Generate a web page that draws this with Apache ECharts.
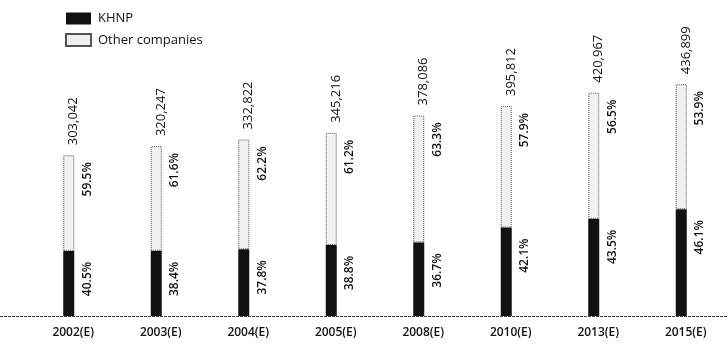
<!DOCTYPE html>
<html><head><meta charset="utf-8">
<script src="https://cdn.jsdelivr.net/npm/echarts@6/dist/echarts.min.js"></script>
<style>html,body{margin:0;padding:0;background:#fff}#c{width:728px;height:345px}</style>
</head><body><div id="c"></div>
<script>
const categories = ['2002(E)','2003(E)','2004(E)','2005(E)','2008(E)','2010(E)','2013(E)','2015(E)'];
const totals = [303042, 320247, 332822, 345216, 378086, 395812, 420967, 436899];
const totalLabels = ['303,042','320,247','332,822','345,216','378,086','395,812','420,967','436,899'];
const khnpPct = [40.5, 38.4, 37.8, 38.8, 36.7, 42.1, 43.5, 46.1];
const otherPct = [59.5, 61.6, 62.2, 61.2, 63.3, 57.9, 56.5, 53.9];

const khnpVals = totals.map((t,i)=> t*khnpPct[i]/100);
const otherVals = totals.map((t,i)=> t*otherPct[i]/100);

const FONT = "'Open Sans', 'DejaVu Sans', sans-serif";
const chart = echarts.init(document.getElementById('c'), null, {renderer:'canvas'});
const opt = {
  animation:false,
  textStyle:{fontFamily:FONT},
  grid:{left:25, right:3, top:20, bottom:29},
  legend:{
    orient:'vertical', left:65, top:12, padding:0, itemWidth:25, itemHeight:12, itemGap:8,
    icon:'rect',
    textStyle:{fontFamily:FONT, fontSize:13, color:'#111', padding:[0,0,0,2]},
    data:['KHNP','Other companies']
  },
  xAxis:{
    type:'category', data:categories,
    axisLine:{show:false}, axisTick:{show:false},
    axisLabel:{fontFamily:FONT, fontSize:12, fontWeight:600, color:'#111', margin:11, padding:[0,0,0,9]}
  },
  yAxis:{type:'value', min:0, max:558000, show:false, splitLine:{show:false}},
  series:[
    {
      name:'KHNP', type:'bar', stack:'s', barWidth:11,
      itemStyle:{color:'#111'},
      data:khnpVals,
      label:{show:true, rotate:90, position:[24,11], align:'right', verticalAlign:'middle',
        fontFamily:FONT, fontSize:12, fontWeight:600, color:'#111',
        formatter:p=>khnpPct[p.dataIndex].toFixed(1)+'%'}
    },
    {
      name:'Other companies', type:'bar', stack:'s', barWidth:11,
      itemStyle:{color:'#f1f1f1', borderColor:'#555', borderWidth:1, borderType:'dotted'},
      data:otherVals,
      label:{show:true, rotate:90, position:[24,7], align:'right', verticalAlign:'middle',
        fontFamily:FONT, fontSize:12, fontWeight:600, color:'#111',
        formatter:p=>otherPct[p.dataIndex].toFixed(1)+'%'}
    },
    {
      name:'totals', type:'bar', stack:'s', barWidth:11,
      itemStyle:{color:'transparent'},
      data:totals.map(()=>0),
      label:{show:true, rotate:90, position:[10.5,-10], align:'left', verticalAlign:'middle',
        fontFamily:FONT, fontSize:13, color:'#111',
        formatter:p=>totalLabels[p.dataIndex]}
    }
  ]
};
chart.setOption(opt);
const y0 = chart.convertToPixel({yAxisIndex:0}, 0);
chart.setOption({graphic:[{type:'line', shape:{x1:0, y1:y0+0.5, x2:728, y2:y0+0.5},
  style:{stroke:'#444', lineWidth:1, lineDash:[3,1]}, silent:true}]});
</script></body></html>
